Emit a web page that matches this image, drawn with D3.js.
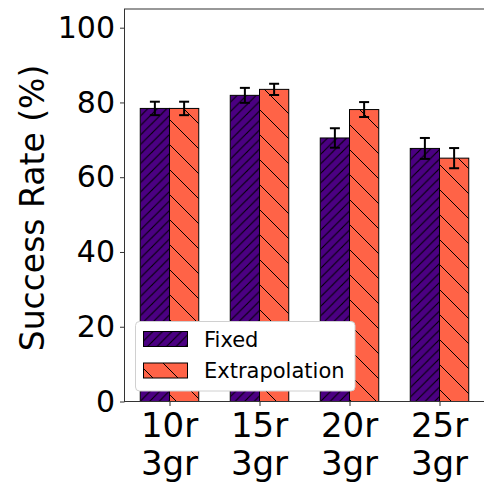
<!DOCTYPE html>
<html>
<head>
<meta charset="utf-8">
<script src="https://cdn.jsdelivr.net/npm/d3@7"></script>
<style>
  body { margin: 0; background: #fff; }
  svg { display: block; font-family: "DejaVu Sans", sans-serif; }
</style>
</head>
<body>
<div id="chart"></div>
<script>
// data
const categories = ["10r\n3gr", "15r\n3gr", "20r\n3gr", "25r\n3gr"];
const seriesNames = ["Fixed", "Extrapolation"];
const fixedVals = [78.4, 81.9, 70.5, 67.7];
const fixedErr = [1.8, 2.0, 2.6, 2.8];
const extrapVals = [78.4, 83.5, 78.1, 65.1];
const extrapErr = [1.8, 1.5, 2.0, 2.7];
const yTicks = [0, 20, 40, 60, 80, 100];

const width = 484, height = 488;
const colors = ["#4B0082", "#FF6347"];
const patterns = ["hatchFixed", "hatchExtrap"];

const svg = d3.select("#chart").append("svg")
    .attr("width", width)
    .attr("height", height);

// hatch patterns (anchored to page like matplotlib)
const defs = svg.append("defs");
function addHatch(id, color, step, dir) {
    const p = defs.append("pattern")
        .attr("id", id)
        .attr("patternUnits", "userSpaceOnUse")
        .attr("width", step)
        .attr("height", step);
    p.append("rect").attr("width", step).attr("height", step).attr("fill", color);
    const lines = dir === "/"
        ? [[-step, step, step, -step], [0, step, step, 0], [0, 2 * step, 2 * step, 0]]
        : [[-step, 0, step, 2 * step], [0, 0, step, step], [0, -step, 2 * step, step]];
    lines.forEach(l => {
        p.append("line")
            .attr("x1", l[0]).attr("y1", l[1])
            .attr("x2", l[2]).attr("y2", l[3])
            .attr("stroke", "#000")
            .attr("stroke-width", 1);
    });
}
addHatch(patterns[0], colors[0], 9.5, "/");
addHatch(patterns[1], colors[1], 25, "\\");

const x = d3.scaleLinear().domain([-0.5, 3.5]).range([124.5, 484.5]);
const y = d3.scaleLinear().domain([0, 105]).range([401.5, 9]);
const barW = 0.325;

const series = [
    { vals: fixedVals, err: fixedErr, off: -barW / 2 },
    { vals: extrapVals, err: extrapErr, off: barW / 2 }
];

// bars
series.forEach((s, si) => {
    svg.append("g").selectAll("rect")
        .data(s.vals)
        .join("rect")
        .attr("x", (d, i) => x(i + s.off - barW / 2))
        .attr("y", d => y(d))
        .attr("width", x(barW) - x(0))
        .attr("height", d => y(0) - y(d))
        .attr("fill", `url(#${patterns[si]})`)
        .attr("stroke", "#000")
        .attr("stroke-width", 1);
});

// error bars
series.forEach(s => {
    const g = svg.append("g").attr("stroke", "#000").attr("stroke-width", 2);
    s.vals.forEach((v, i) => {
        const cx = x(i + s.off);
        const lo = y(v - s.err[i]), hi = y(v + s.err[i]);
        g.append("line").attr("x1", cx).attr("x2", cx).attr("y1", lo).attr("y2", hi);
        g.append("line").attr("x1", cx - 5).attr("x2", cx + 5).attr("y1", lo).attr("y2", lo);
        g.append("line").attr("x1", cx - 5).attr("x2", cx + 5).attr("y1", hi).attr("y2", hi);
    });
});

// frame
svg.append("rect")
    .attr("x", 124.5).attr("y", 9)
    .attr("width", 360).attr("height", y(0) - 9)
    .attr("fill", "none")
    .attr("stroke", "#333")
    .attr("stroke-width", 1);

// y axis
const yAxis = svg.append("g")
    .attr("transform", "translate(124.5,0)")
    .call(d3.axisLeft(y).tickValues(yTicks).tickSize(4.5).tickPadding(5));
yAxis.select(".domain").remove();
yAxis.selectAll(".tick line").attr("stroke", "#333");
yAxis.selectAll("text")
    .attr("font-size", 30)
    .attr("font-family", "DejaVu Sans")
    .attr("fill", "#000");

// x axis
const xAxis = svg.append("g")
    .attr("transform", `translate(0,${y(0)})`)
    .call(d3.axisBottom(x).tickValues(d3.range(categories.length)).tickSize(4.5).tickFormat(""));
xAxis.select(".domain").remove();
xAxis.selectAll(".tick line").attr("stroke", "#333");
categories.forEach((c, i) => {
    const t = svg.append("text")
        .attr("x", x(i))
        .attr("text-anchor", "middle")
        .attr("font-size", 34)
        .attr("fill", "#000");
    c.split("\n").forEach((line, li) => {
        t.append("tspan")
            .attr("x", x(i))
            .attr("y", 437 + li * 38)
            .text(line);
    });
});

// y label
svg.append("text")
    .attr("transform", "translate(44,208) rotate(-90)")
    .attr("text-anchor", "middle")
    .attr("font-size", 33)
    .attr("fill", "#000")
    .text("Success Rate (%)");

// legend
const legend = svg.append("g");
legend.append("rect")
    .attr("x", 135.5).attr("y", 321.5)
    .attr("width", 219.5).attr("height", 69.5)
    .attr("rx", 4).attr("ry", 4)
    .attr("fill", "#fff")
    .attr("stroke", "#d0d0d0")
    .attr("stroke-width", 1);
seriesNames.forEach((name, i) => {
    const py = 331.5 + i * 31.5;
    legend.append("rect")
        .attr("x", 143.5).attr("y", py)
        .attr("width", 44).attr("height", 15)
        .attr("fill", `url(#${patterns[i]})`)
        .attr("stroke", "#000")
        .attr("stroke-width", 1);
    legend.append("text")
        .attr("x", 204)
        .attr("y", py + 15)
        .attr("font-size", 21)
        .attr("fill", "#000")
        .text(name);
});
</script>
</body>
</html>
